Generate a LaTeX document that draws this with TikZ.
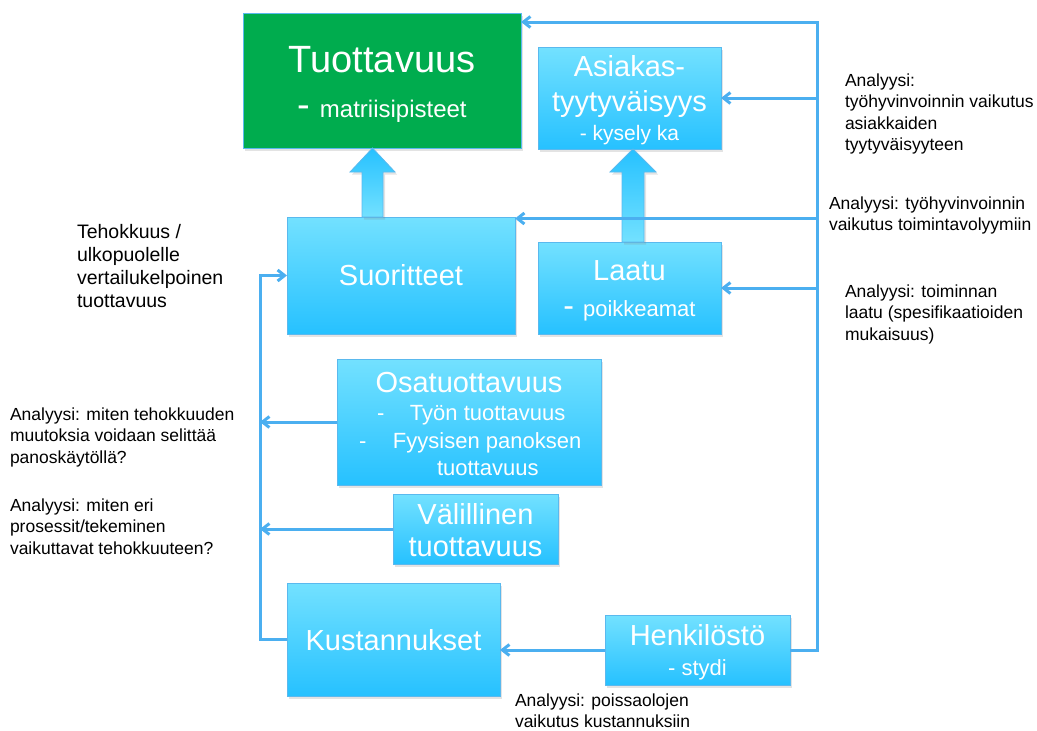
\documentclass[tikz,border=0pt]{standalone}
\usepackage{fontspec}
\setmainfont{Liberation Sans}
\usetikzlibrary{arrows.meta,shadows,calc}

\definecolor{boxtop}{RGB}{115,225,255}
\definecolor{boxbot}{RGB}{38,193,255}
\definecolor{boxline}{RGB}{90,185,238}
\definecolor{connblue}{RGB}{75,175,240}
\definecolor{tuotgreen}{RGB}{0,172,78}

\tikzset{
  box/.style={rectangle, draw=boxline, line width=0.8pt,
    top color=boxtop, bottom color=boxbot, text=white, align=center,
    inner sep=0pt, outer sep=0pt,
    drop shadow={shadow xshift=2pt, shadow yshift=-2.5pt, opacity=0.22},
    font=\fontsize{29}{32}\selectfont},
  greenbox/.style={rectangle, draw=boxline, line width=0.8pt,
    fill=tuotgreen, text=white, align=center, inner sep=0pt, outer sep=0pt,
    drop shadow={shadow xshift=2pt, shadow yshift=-2.5pt, opacity=0.22},
    font=\fontsize{38}{45}\selectfont},
  bigarrow/.style={draw=boxline, line width=0.8pt,
    top color=boxbot, bottom color=boxtop,
    drop shadow={shadow xshift=2pt, shadow yshift=-2.5pt, opacity=0.22}},
  conn/.style={draw=connblue, line width=3pt,
    -{Straight Barb[length=7pt,width=11pt]}},
  note/.style={inner sep=0pt, outer sep=0pt, text=black, anchor=base west,
    font=\fontsize{17.5}{21.6}\selectfont},
  bignote/.style={note, font=\fontsize{19.5}{23.3}\selectfont}
}

\newcommand{\subtxt}[1]{{\fontsize{22}{26}\selectfont #1}}
% lower one line of a box label without changing the box's size
\newcommand{\dn}[2]{\raisebox{-#1}[\height][\depth]{#2}}

\begin{document}
\begin{tikzpicture}[x=1pt, y=-1pt]
\useasboundingbox (0,0) rectangle (1037,731);

% ---- boxes ----
\node[greenbox, minimum width=278pt, minimum height=135pt] (tuot) at (382,80.5)
  {\dn{4pt}{Tuottavuus}\\\dn{4pt}{{\fontsize{38}{45}\selectfont-}\hspace{10pt}{\fontsize{24}{28}\selectfont matriisipisteet}}};

\node[box, minimum width=183pt, minimum height=102pt, font=\fontsize{29}{34}\selectfont] (asiak) at (629.5,98)
  {\dn{2pt}{Asiakas-}\\\dn{3pt}{tyytyväisyys}\\[-5pt]\dn{3pt}{\fontsize{21}{25}\selectfont - kysely ka}};

\node[box, minimum width=228pt, minimum height=117pt] (suor) at (401,275.5) {Suoritteet};

\node[box, minimum width=183pt, minimum height=92pt, font=\fontsize{29}{34}\selectfont] (laatu) at (629.5,288)
  {\dn{2pt}{Laatu}\\\dn{4pt}{{\fontsize{32}{34}\selectfont-}\hspace{9pt}\subtxt{poikkeamat}}};

\node[box, minimum width=264pt, minimum height=126pt, font=\fontsize{29}{31}\selectfont] (osa) at (469,422)
  {Osatuottavuus\\[-4pt]
   \dn{1pt}{\subtxt{\makebox[184pt][l]{\makebox[33pt][l]{-}Työn tuottavuus}}}\\[-5pt]
   \dn{3pt}{\subtxt{\makebox[220pt][l]{\makebox[34pt][l]{-}Fyysisen panoksen}}}\\[-5pt]
   \dn{4pt}{\subtxt{\makebox[64pt][l]{tuottavuus}}}};

\node[box, minimum width=165pt, minimum height=70pt] (val) at (475.5,529)
  {\dn{1pt}{Välillinen}\\\dn{1pt}{tuottavuus}};

\node[box, minimum width=213pt, minimum height=113pt] (kust) at (393.5,639.5) {\dn{1pt}{Kustannukset}};

\node[box, minimum width=185pt, minimum height=70pt, font=\fontsize{29}{32}\selectfont] (henk) at (697.5,650)
  {\dn{2pt}{Henkilöstö}\\[-2pt]\dn{2pt}{\subtxt{- stydi}}};

% ---- block arrows ----
\coordinate (up1tip) at ($(tuot.south)+(-9.5,0)$);
\coordinate (up1base) at (up1tip |- suor.north);
\path[bigarrow] ($(up1base)+(-10.5,0)$) -- ($(up1tip)+(-10.5,24)$) -- ($(up1tip)+(-22.5,24)$)
  -- (up1tip) -- ($(up1tip)+(22.5,24)$) -- ($(up1tip)+(10.5,24)$) -- ($(up1base)+(10.5,0)$) -- cycle;

\coordinate (up2tip) at ($(asiak.south)+(3.5,0)$);
\coordinate (up2base) at (up2tip |- laatu.north);
\path[bigarrow] ($(up2base)+(-11,0)$) -- ($(up2tip)+(-11,23)$) -- ($(up2tip)+(-23,23)$)
  -- (up2tip) -- ($(up2tip)+(23,23)$) -- ($(up2tip)+(11,23)$) -- ($(up2base)+(11,0)$) -- cycle;

% ---- connectors ----
\coordinate (rtop) at (817,22);
\coordinate (lrail) at (260,275.5);
\coordinate (suorin) at ($(suor.north east)+(0,1.5)$);

\draw[conn] (henk.east) -| (rtop) -- (rtop -| tuot.east);
\draw[conn] (rtop |- asiak.east) -- (asiak.east);
\draw[conn] (rtop |- suorin) -- (suorin);
\draw[conn] (rtop |- laatu.east) -- (laatu.east);
\draw[conn] (henk.west) -- (henk.west -| kust.east);
\draw[conn] (kust.west) -| (lrail) -- (suor.west);
\draw[conn] (osa.west) -- (osa.west -| lrail);
\draw[conn] (val.west) -- (val.west -| lrail);

% ---- analysis notes ----
\node[bignote] (tehok) at (77,238)
  {\begin{tabular}[t]{@{}l@{}}Tehokkuus /\\ulkopuolelle\\vertailukelpoinen\\tuottavuus\end{tabular}};
\node[note] (anaL1) at (10,420)
  {\begin{tabular}[t]{@{}l@{}}Analyysi: miten tehokkuuden\\muutoksia voidaan selittää\\panoskäytöllä?\end{tabular}};
\node[note] (anaL2) at (10,511)
  {\begin{tabular}[t]{@{}l@{}}Analyysi: miten eri\\prosessit/tekeminen\\vaikuttavat tehokkuuteen?\end{tabular}};
\node[note] (anaR1) at (845,86)
  {\begin{tabular}[t]{@{}l@{}}Analyysi:\\työhyvinvoinnin vaikutus\\asiakkaiden\\tyytyväisyyteen\end{tabular}};
\node[note] (anaR2) at (829,209)
  {\begin{tabular}[t]{@{}l@{}}Analyysi: työhyvinvoinnin\\vaikutus toimintavolyymiin\end{tabular}};
\node[note] (anaR3) at (845,297)
  {\begin{tabular}[t]{@{}l@{}}Analyysi: toiminnan\\laatu (spesifikaatioiden\\mukaisuus)\end{tabular}};
\node[note] (anaB) at (515,706)
  {\begin{tabular}[t]{@{}l@{}}Analyysi: poissaolojen\\vaikutus kustannuksiin\end{tabular}};
\end{tikzpicture}
\end{document}
